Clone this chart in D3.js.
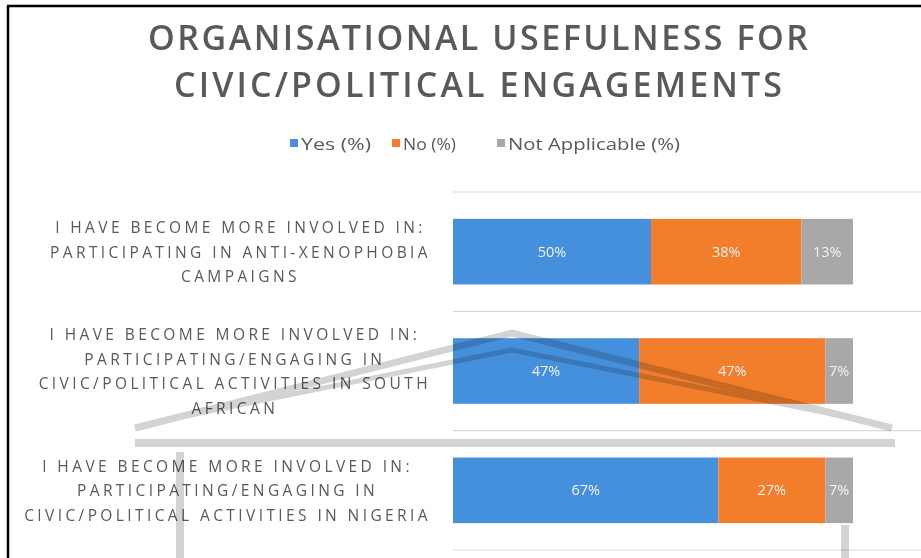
<!DOCTYPE html>
<html>
<head>
<meta charset="utf-8">
<script src="https://cdn.jsdelivr.net/npm/d3@7"></script>
<style>
  html, body { margin: 0; padding: 0; background: #fff; }
  svg { display: block; }
</style>
</head>
<body>
<svg id="chart" width="921" height="558"></svg>
<script>
// Survey categories (each label wraps onto several lines)
const categories = [
  ["I HAVE BECOME MORE INVOLVED IN:", "PARTICIPATING IN ANTI-XENOPHOBIA", "CAMPAIGNS"],
  ["I HAVE BECOME MORE INVOLVED IN:", "PARTICIPATING/ENGAGING IN", "CIVIC/POLITICAL ACTIVITIES IN SOUTH", "AFRICAN"],
  ["I HAVE BECOME MORE INVOLVED IN:", "PARTICIPATING/ENGAGING IN", "CIVIC/POLITICAL ACTIVITIES IN NIGERIA"]
];
const seriesNames = ["Yes (%)", "No (%)", "Not Applicable (%)"];
const yesValues = [50, 47, 67];
const noValues = [38, 47, 27];
const naValues = [13, 7, 7];
const titleLines = ["ORGANISATIONAL USEFULNESS FOR", "CIVIC/POLITICAL ENGAGEMENTS"];
const colors = ["#4590DC", "#F27E2C", "#A8A8A8"];

const W = 921, H = 558;
const svg = d3.select("#chart");
const keys = ["yes", "no", "na"];
const rows = categories.map((c, i) => ({
  idx: i, yes: yesValues[i], no: noValues[i], na: naValues[i]
}));

// 100% stacked layout
const stacked = d3.stack().keys(keys).offset(d3.stackOffsetExpand)(rows);

const x = d3.scaleLinear().domain([0, 1]).range([453, 853]);
const y = d3.scaleBand().domain(rows.map(r => r.idx)).range([192, 550])
  .paddingInner(0.45).paddingOuter(0.225);

// frame (left and top edges)
svg.append("line").attr("x1", 8).attr("x2", 8).attr("y1", 6).attr("y2", H)
  .attr("stroke", "#000").attr("stroke-width", 2.5);
svg.append("line").attr("x1", 7).attr("x2", W).attr("y1", 6).attr("y2", 6)
  .attr("stroke", "#000").attr("stroke-width", 2.5);

// title
const titleWidths = [660, 608];
svg.append("g").selectAll("text").data(titleLines).join("text")
  .attr("x", 478).attr("y", (d, i) => 50 + i * 47)
  .attr("text-anchor", "middle")
  .attr("font-family", "'Open Sans', sans-serif")
  .attr("font-weight", 600).attr("font-size", 34)
  .attr("textLength", (d, i) => titleWidths[i])
  .attr("lengthAdjust", "spacing")
  .attr("fill", "#595959")
  .text(d => d);

// legend
const legendItems = [
  { name: seriesNames[0], color: colors[0], x: 290, w: 70 },
  { name: seriesNames[1], color: colors[1], x: 392, w: 53 },
  { name: seriesNames[2], color: colors[2], x: 497, w: 172 }
];
const lg = svg.append("g");
legendItems.forEach(it => {
  lg.append("rect").attr("x", it.x).attr("y", 139).attr("width", 8).attr("height", 8)
    .attr("fill", it.color);
  lg.append("text").attr("x", it.x + 11).attr("y", 150)
    .attr("font-family", "'Open Sans', sans-serif").attr("font-size", 17)
    .attr("textLength", it.w).attr("lengthAdjust", "spacingAndGlyphs")
    .attr("fill", "#595959").text(it.name);
});

// category separators
const sepY = d3.range(rows.length + 1).map(i => 192 + i * ((550 - 192) / rows.length));
svg.append("g").selectAll("line").data(sepY).join("line")
  .attr("x1", x(0)).attr("x2", W).attr("y1", d => d).attr("y2", d => d)
  .attr("stroke", "#D9D9D9").attr("stroke-width", 1.2);

// bars
const barG = svg.append("g");
stacked.forEach((layer, li) => {
  barG.selectAll(null).data(layer).join("rect")
    .attr("x", d => x(d[0]))
    .attr("y", d => y(d.data.idx))
    .attr("width", d => x(d[1]) - x(d[0]))
    .attr("height", y.bandwidth())
    .attr("fill", colors[li]);
  barG.selectAll(null).data(layer).join("text")
    .attr("x", d => (x(d[0]) + x(d[1])) / 2)
    .attr("y", d => y(d.data.idx) + y.bandwidth() / 2 + 5)
    .attr("text-anchor", "middle")
    .attr("font-family", "'Open Sans', sans-serif").attr("font-size", 14.5)
    .attr("fill", "#F2F2F2")
    .text(d => d.data[layer.key] + "%");
});

// category labels: each block right-aligned to the axis, lines centred inside it
const labelG = svg.append("g");
const lineH = 24.5;
rows.forEach((r, i) => {
  const lines = categories[i];
  const g = labelG.append("g");
  const cy = y(r.idx) + y.bandwidth() / 2;
  const texts = g.selectAll("text").data(lines).join("text")
    .attr("font-family", "'Open Sans', sans-serif").attr("font-size", 15.5)
    .attr("letter-spacing", 3.4)
    .attr("fill", "#595959")
    .attr("text-anchor", "middle")
    .attr("y", (d, k) => cy + (k - (lines.length - 1) / 2) * lineH + 6)
    .text(d => d);
  let maxW = 0;
  texts.each(function () { maxW = Math.max(maxW, this.getComputedTextLength()); });
  texts.attr("x", 431 - maxW / 2);
});

// faint building emblem in the background
const emb = svg.append("g").attr("fill", "none").attr("stroke", "#B5B5B5")
  .style("mix-blend-mode", "multiply").attr("opacity", 0.6);
emb.append("path").attr("d", "M135,428 L512,333 L892,428").attr("stroke-width", 7);
emb.append("path").attr("d", "M165,420 L512,350 L862,420").attr("stroke-width", 5);
emb.append("line").attr("x1", 135).attr("x2", 895).attr("y1", 443).attr("y2", 443).attr("stroke-width", 8);
emb.append("line").attr("x1", 180).attr("x2", 180).attr("y1", 452).attr("y2", 558).attr("stroke-width", 8);
emb.append("line").attr("x1", 845).attr("x2", 845).attr("y1", 525).attr("y2", 558).attr("stroke-width", 8);
</script>
</body>
</html>
